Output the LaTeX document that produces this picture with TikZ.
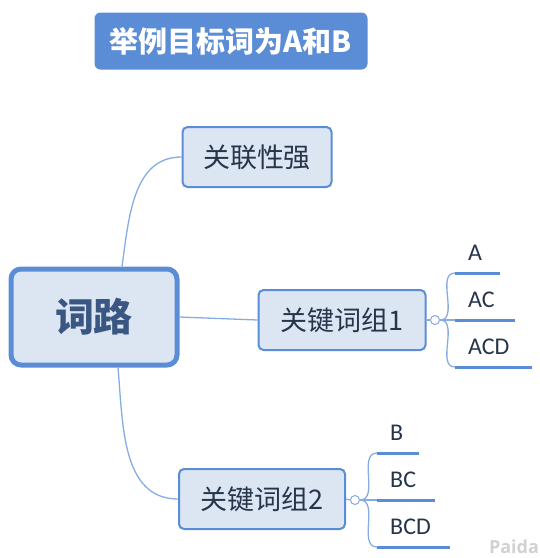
\documentclass[tikz,border=0pt]{standalone}
\usepackage{fontspec}
\setmainfont{Noto Sans CJK SC}
\newfontfamily\latinleaf{Carlito}
\newfontfamily\markfont{Open Sans}
\usetikzlibrary{positioning}
\definecolor{mapblue}{HTML}{5B8DD6}
\definecolor{mapfill}{HTML}{DCE6F3}
\definecolor{maplink}{HTML}{86ACE2}
\definecolor{mapink}{HTML}{26354A}
\definecolor{rootink}{HTML}{3A5682}

\begin{document}
\begin{tikzpicture}[
  x=1pt, y=1pt,
  title/.style={fill=mapblue, rounded corners=6pt, minimum width=273, minimum height=57,
                text=white, font=\fontsize{29}{32}\selectfont\bfseries},
  root/.style={draw=mapblue, line width=5pt, fill=mapfill, rounded corners=10pt,
               minimum width=166, minimum height=96, text=rootink,
               font=\fontsize{39}{42}\selectfont\bfseries},
  topic/.style={draw=mapblue, line width=2pt, fill=mapfill, rounded corners=5pt,
                minimum height=60, text=mapink, font=\fontsize{27}{30}\selectfont},
  fold/.style={circle, draw=maplink, line width=1pt, fill=white, minimum size=9, inner sep=0},
  link/.style={draw=maplink, line width=1.3pt},
  leaf/.style={anchor=south west, inner xsep=13, inner ysep=12, text depth=0pt,
               align=left, text=mapink, font=\latinleaf\fontsize{24}{27}\selectfont,
               append after command={(\tikzlastnode.south west) edge[uline] (\tikzlastnode.south east)}},
  uline/.style={draw=mapblue, line width=3pt},
]
\useasboundingbox (0,0) rectangle (540,-558);

% ---------- title ----------
\node[title] (ttl) at (231,-41) {举例目标词为A和B};

% ---------- central topic ----------
\node[root] (root) at (94,-317) {词路};

% ---------- main branches ----------
\node[topic, minimum width=149] (rel) at (257,-157) {关联性强};
\node[topic, minimum width=167] (kw1) at (342,-320) {关键词组1};
\node[topic, minimum width=166] (kw2) at (262,-499) {关键词组2};
\draw[link] ([xshift=28]root.north) to[out=82, in=180] (rel.west);
\draw[link] (root.east) -- (kw1.west);
\draw[link] ([xshift=24]root.south) to[out=-85, in=180] (kw2.west);

% ---------- group 1 ----------
\node[fold] (f1) at (435,-320) {};
\draw[link] (kw1.east) -- (f1.west);
\node[leaf, text width=19] (la)   at (455,-273) {A};
\node[leaf, text width=34] (lac)  at (455,-320) {AC};
\node[leaf, text width=51] (lacd) at (455,-367) {ACD};
\draw[link] (f1.east) to[out=0, in=180] (la.south west);
\draw[link] (f1.east) -- (lac.south west);
\draw[link] (f1.east) to[out=0, in=180] (lacd.south west);

% ---------- group 2 ----------
\node[fold] (f2) at (355,-500) {};
\draw[link] (kw2.east) -- (f2.west);
\node[leaf, text width=16] (lb)   at (377,-453) {B};
\node[leaf, text width=32] (lbc)  at (377,-500) {BC};
\node[leaf, text width=47] (lbcd) at (377,-547) {BCD};
\draw[link] (f2.east) to[out=0, in=180] (lb.south west);
\draw[link] (f2.east) -- (lbc.south west);
\draw[link] (f2.east) to[out=0, in=180] (lbcd.south west);

% ---------- watermark ----------
\node[text=black!18, font=\markfont\fontsize{18}{20}\selectfont\bfseries] (mark) at (514,-547) {Paida};
\end{tikzpicture}
\end{document}
